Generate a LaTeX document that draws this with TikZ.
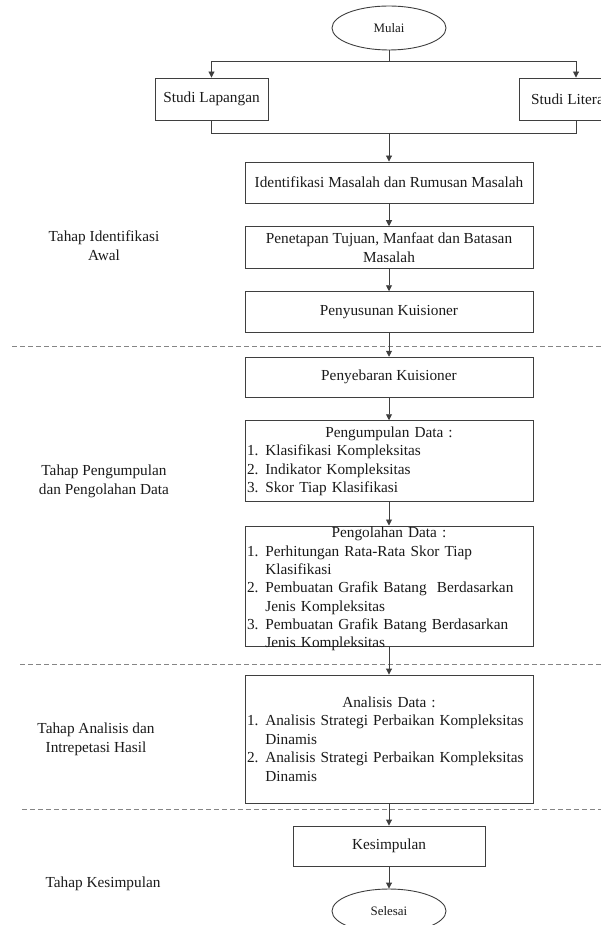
\documentclass[tikz,border=0pt]{standalone}
\usepackage{fontspec}
\setmainfont{Liberation Serif}
\usetikzlibrary{shapes.geometric,arrows.meta}
\definecolor{linec}{HTML}{3F3F3F}
\definecolor{dashc}{HTML}{858585}
\definecolor{textc}{HTML}{1A1A1A}
\newcommand{\lnum}[1]{\makebox[18.3pt][l]{#1}}
\newcommand{\lcont}{\hspace*{18.3pt}}
\begin{document}
\begin{tikzpicture}[x=1pt,y=-1pt,
  box/.style={draw=linec, line width=0.9pt, rectangle, minimum width=288pt, inner sep=0pt,
    align=center, font=\fontsize{15.3}{18.6}\selectfont, text=textc},
  listbox/.style={box, align=left, text width=284pt},
  listtext/.style={align=left, text width=284pt, inner sep=0pt,
    font=\fontsize{15.3}{18.3}\selectfont, text=textc},
  oval/.style={draw=linec, line width=0.9pt, ellipse, minimum width=114pt, minimum height=44pt,
    inner sep=0pt, font=\fontsize{12.9}{15}\selectfont, text=textc},
  lbl/.style={align=center, inner sep=0pt, font=\fontsize{15.3}{18.8}\selectfont, text=textc},
  con/.style={draw=linec, line width=0.9pt},
  arr/.style={con, -{Triangle[length=6pt,width=6pt]}},
  sep/.style={draw=dashc, line width=1pt, dash pattern=on 5pt off 3pt}]
\useasboundingbox (0,0) rectangle (601,925);

% separators
\draw[sep] (12,346.7) -- (601,346.7);
\draw[sep] (20,664) -- (601,664);
\draw[sep] (22,809.5) -- (601,809.5);

% stage labels
\node[lbl] (l1) at (104,245.5) {Tahap Identifikasi\\Awal};
\node[lbl] (l2) at (104,481.7) {Tahap Pengumpulan\\dan Pengolahan Data};
\node[lbl] (l3) at (96,739) {Tahap Analisis dan\\Intrepetasi Hasil};
\node[lbl] (l4) at (103,883.5) {Tahap Kesimpulan};

% nodes
\node[oval] (mulai) at (389,28) {Mulai};
\node[box, minimum width=113pt, minimum height=42pt] (lap) at (211.5,99) {Studi Lapangan};
\node[box, minimum width=114pt, minimum height=42pt] (lit) at (576,99) {Studi Literatur};
\node[box, minimum height=41pt] (ident) at (389,182.5) {Identifikasi Masalah dan Rumusan Masalah};
\node[box, minimum height=41.6pt] (tetap) at (389,247.5) {Penetapan Tujuan, Manfaat dan Batasan\\Masalah};
\node[box, minimum height=41pt] (susun) at (389,312.2) {Penyusunan Kuisioner};
\node[box, minimum height=40pt] (sebar) at (389,377.2) {Penyebaran Kuisioner};
\node[listbox, minimum height=81pt, font=\fontsize{15.3}{18.5}\selectfont] (kumpul) at (389,461.2) {%
\makebox[284pt]{Pengumpulan Data :}\\
\lnum{1.}Klasifikasi Kompleksitas\\
\lnum{2.}Indikator Kompleksitas\\
\lnum{3.}Skor Tiap Klasifikasi};
\node[box, minimum height=120.7pt] (olah) at (389,586.3) {};
\node[listtext] (olahtxt) at ([yshift=-2.8pt]olah.center) {%
\makebox[284pt]{Pengolahan Data :}\\
\lnum{1.}Perhitungan Rata-Rata Skor Tiap\\
\lcont Klasifikasi\\
\lnum{2.}Pembuatan Grafik Batang\ \ Berdasarkan\\
\lcont Jenis Kompleksitas\\
\lnum{3.}Pembuatan Grafik Batang Berdasarkan\\
\lcont Jenis Kompleksitas};
\node[listbox, minimum height=128pt, font=\fontsize{15.3}{18.5}\selectfont] (anal) at (389,739) {%
\makebox[284pt]{Analisis Data :}\\
\lnum{1.}Analisis Strategi Perbaikan Kompleksitas\\
\lcont Dinamis\\
\lnum{2.}Analisis Strategi Perbaikan Kompleksitas\\
\lcont Dinamis};
\node[box, minimum width=192pt, minimum height=40pt] (kes) at (389,846) {Kesimpulan};
\node[oval] (selesai) at (389,911) {Selesai};

% connectors
\coordinate (j1) at (389,61);
\coordinate (j2) at (389,133);
\draw[con] (mulai.south) -- (j1);
\draw[arr] (j1) -| (lap.north);
\draw[arr] (j1) -| (lit.north);
\draw[con] (lap.south) |- (j2);
\draw[con] (lit.south) |- (j2);
\draw[arr] (j2) -- (ident.north);
\draw[arr] (ident) -- (tetap);
\draw[arr] (tetap) -- (susun);
\draw[arr] (susun) -- (sebar);
\draw[arr] (sebar) -- (kumpul);
\draw[arr] (kumpul) -- (olah);
\draw[arr] (olah) -- (anal);
\draw[arr] (anal) -- (kes);
\draw[arr] (kes) -- (selesai);
\end{tikzpicture}
\end{document}
